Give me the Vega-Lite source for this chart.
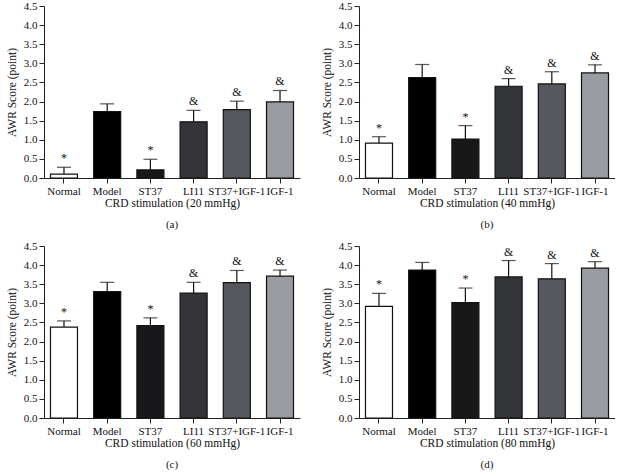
{
  "$schema": "https://vega.github.io/schema/vega-lite/v6.json",
  "padding": {"top": 0, "left": 6, "right": 0, "bottom": 0},
  "background": "white",
  "config": {
    "font": "Liberation Serif",
    "view": {"stroke": null},
    "axis": {
      "domainColor": "#222",
      "tickColor": "#222",
      "labelColor": "#111",
      "titleColor": "#111",
      "labelFont": "Liberation Serif",
      "titleFont": "Liberation Serif",
      "titleFontWeight": "normal",
      "labelFontSize": 11,
      "titleFontSize": 11.5,
      "grid": false,
      "tickSize": 5
    },
    "title": {"font": "Liberation Serif", "fontSize": 11, "fontWeight": "normal", "color": "#111"}
  },
  "datasets": {
    "awr": [
      {"panel": "a", "group": "Normal", "mean": 0.10, "upper": 0.28, "sig": "*"},
      {"panel": "a", "group": "Model", "mean": 1.74, "upper": 1.94, "sig": ""},
      {"panel": "a", "group": "ST37", "mean": 0.21, "upper": 0.49, "sig": "*"},
      {"panel": "a", "group": "LI11", "mean": 1.47, "upper": 1.77, "sig": "&"},
      {"panel": "a", "group": "ST37+IGF-1", "mean": 1.79, "upper": 2.01, "sig": "&"},
      {"panel": "a", "group": "IGF-1", "mean": 1.99, "upper": 2.29, "sig": "&"},
      {"panel": "b", "group": "Normal", "mean": 0.91, "upper": 1.08, "sig": "*"},
      {"panel": "b", "group": "Model", "mean": 2.63, "upper": 2.97, "sig": ""},
      {"panel": "b", "group": "ST37", "mean": 1.02, "upper": 1.37, "sig": "*"},
      {"panel": "b", "group": "LI11", "mean": 2.40, "upper": 2.60, "sig": "&"},
      {"panel": "b", "group": "ST37+IGF-1", "mean": 2.46, "upper": 2.78, "sig": "&"},
      {"panel": "b", "group": "IGF-1", "mean": 2.75, "upper": 2.96, "sig": "&"},
      {"panel": "c", "group": "Normal", "mean": 2.38, "upper": 2.54, "sig": "*"},
      {"panel": "c", "group": "Model", "mean": 3.31, "upper": 3.55, "sig": ""},
      {"panel": "c", "group": "ST37", "mean": 2.42, "upper": 2.62, "sig": "*"},
      {"panel": "c", "group": "LI11", "mean": 3.27, "upper": 3.55, "sig": "&"},
      {"panel": "c", "group": "ST37+IGF-1", "mean": 3.54, "upper": 3.86, "sig": "&"},
      {"panel": "c", "group": "IGF-1", "mean": 3.71, "upper": 3.87, "sig": "&"},
      {"panel": "d", "group": "Normal", "mean": 2.92, "upper": 3.26, "sig": "*"},
      {"panel": "d", "group": "Model", "mean": 3.87, "upper": 4.07, "sig": ""},
      {"panel": "d", "group": "ST37", "mean": 3.02, "upper": 3.40, "sig": "*"},
      {"panel": "d", "group": "LI11", "mean": 3.69, "upper": 4.12, "sig": "&"},
      {"panel": "d", "group": "ST37+IGF-1", "mean": 3.64, "upper": 4.04, "sig": "&"},
      {"panel": "d", "group": "IGF-1", "mean": 3.92, "upper": 4.09, "sig": "&"}
    ]
  },
  "data": {"name": "awr"},
  "columns": 2,
  "bounds": "flush",
  "spacing": {"row": 68, "column": 59},
  "concat": [
    {
      "width": 256, "height": 172,
      "title": {"text": "(a)", "orient": "bottom", "offset": 10},
      "transform": [{"filter": "datum.panel === 'a'"}],
      "encoding": {
        "x": {"field": "group", "type": "nominal", "sort": null,
              "scale": {"paddingInner": 0.375, "paddingOuter": 0.15},
              "axis": {"title": "CRD stimulation (20 mmHg)", "labelAngle": 0, "labelPadding": 2, "titlePadding": 1}},
        "y": {"field": "mean", "type": "quantitative",
              "scale": {"domain": [0, 4.5], "nice": false},
              "axis": {"title": "AWR Score (point)", "values": [0, 0.5, 1, 1.5, 2, 2.5, 3, 3.5, 4, 4.5], "format": ".1f", "labelPadding": 2, "titlePadding": 6}}
      },
      "layer": [
        {"mark": {"type": "rule", "color": "#111", "strokeWidth": 1.2}, "encoding": {"y2": {"field": "upper"}}},
        {"mark": {"type": "tick", "color": "#111", "size": 14, "thickness": 1.2}, "encoding": {"y": {"field": "upper", "type": "quantitative"}}},
        {"mark": {"type": "bar", "stroke": "#111", "strokeWidth": 1.2},
         "encoding": {"color": {"field": "group", "type": "nominal", "legend": null,
           "scale": {"domain": ["Normal", "Model", "ST37", "LI11", "ST37+IGF-1", "IGF-1"], "range": ["#ffffff", "#000000", "#18181a", "#333438", "#55585d", "#999ca0"]}}}},
        {"mark": {"type": "text", "baseline": "bottom", "dy": -2, "fontSize": 12, "font": "Liberation Serif", "fill": "#111"},
         "encoding": {"y": {"field": "upper", "type": "quantitative"}, "text": {"field": "sig"}}}
      ]
    },
    {
      "width": 256, "height": 172,
      "title": {"text": "(b)", "orient": "bottom", "offset": 10},
      "transform": [{"filter": "datum.panel === 'b'"}],
      "encoding": {
        "x": {"field": "group", "type": "nominal", "sort": null,
              "scale": {"paddingInner": 0.375, "paddingOuter": 0.15},
              "axis": {"title": "CRD stimulation (40 mmHg)", "labelAngle": 0, "labelPadding": 2, "titlePadding": 1}},
        "y": {"field": "mean", "type": "quantitative",
              "scale": {"domain": [0, 4.5], "nice": false},
              "axis": {"title": "AWR Score (point)", "values": [0, 0.5, 1, 1.5, 2, 2.5, 3, 3.5, 4, 4.5], "format": ".1f", "labelPadding": 2, "titlePadding": 6}}
      },
      "layer": [
        {"mark": {"type": "rule", "color": "#111", "strokeWidth": 1.2}, "encoding": {"y2": {"field": "upper"}}},
        {"mark": {"type": "tick", "color": "#111", "size": 14, "thickness": 1.2}, "encoding": {"y": {"field": "upper", "type": "quantitative"}}},
        {"mark": {"type": "bar", "stroke": "#111", "strokeWidth": 1.2},
         "encoding": {"color": {"field": "group", "type": "nominal", "legend": null,
           "scale": {"domain": ["Normal", "Model", "ST37", "LI11", "ST37+IGF-1", "IGF-1"], "range": ["#ffffff", "#000000", "#18181a", "#333438", "#55585d", "#999ca0"]}}}},
        {"mark": {"type": "text", "baseline": "bottom", "dy": -2, "fontSize": 12, "font": "Liberation Serif", "fill": "#111"},
         "encoding": {"y": {"field": "upper", "type": "quantitative"}, "text": {"field": "sig"}}}
      ]
    },
    {
      "width": 256, "height": 172,
      "title": {"text": "(c)", "orient": "bottom", "offset": 10},
      "transform": [{"filter": "datum.panel === 'c'"}],
      "encoding": {
        "x": {"field": "group", "type": "nominal", "sort": null,
              "scale": {"paddingInner": 0.375, "paddingOuter": 0.15},
              "axis": {"title": "CRD stimulation (60 mmHg)", "labelAngle": 0, "labelPadding": 2, "titlePadding": 1}},
        "y": {"field": "mean", "type": "quantitative",
              "scale": {"domain": [0, 4.5], "nice": false},
              "axis": {"title": "AWR Score (point)", "values": [0, 0.5, 1, 1.5, 2, 2.5, 3, 3.5, 4, 4.5], "format": ".1f", "labelPadding": 2, "titlePadding": 6}}
      },
      "layer": [
        {"mark": {"type": "rule", "color": "#111", "strokeWidth": 1.2}, "encoding": {"y2": {"field": "upper"}}},
        {"mark": {"type": "tick", "color": "#111", "size": 14, "thickness": 1.2}, "encoding": {"y": {"field": "upper", "type": "quantitative"}}},
        {"mark": {"type": "bar", "stroke": "#111", "strokeWidth": 1.2},
         "encoding": {"color": {"field": "group", "type": "nominal", "legend": null,
           "scale": {"domain": ["Normal", "Model", "ST37", "LI11", "ST37+IGF-1", "IGF-1"], "range": ["#ffffff", "#000000", "#18181a", "#333438", "#55585d", "#999ca0"]}}}},
        {"mark": {"type": "text", "baseline": "bottom", "dy": -2, "fontSize": 12, "font": "Liberation Serif", "fill": "#111"},
         "encoding": {"y": {"field": "upper", "type": "quantitative"}, "text": {"field": "sig"}}}
      ]
    },
    {
      "width": 256, "height": 172,
      "title": {"text": "(d)", "orient": "bottom", "offset": 10},
      "transform": [{"filter": "datum.panel === 'd'"}],
      "encoding": {
        "x": {"field": "group", "type": "nominal", "sort": null,
              "scale": {"paddingInner": 0.375, "paddingOuter": 0.15},
              "axis": {"title": "CRD stimulation (80 mmHg)", "labelAngle": 0, "labelPadding": 2, "titlePadding": 1}},
        "y": {"field": "mean", "type": "quantitative",
              "scale": {"domain": [0, 4.5], "nice": false},
              "axis": {"title": "AWR Score (point)", "values": [0, 0.5, 1, 1.5, 2, 2.5, 3, 3.5, 4, 4.5], "format": ".1f", "labelPadding": 2, "titlePadding": 6}}
      },
      "layer": [
        {"mark": {"type": "rule", "color": "#111", "strokeWidth": 1.2}, "encoding": {"y2": {"field": "upper"}}},
        {"mark": {"type": "tick", "color": "#111", "size": 14, "thickness": 1.2}, "encoding": {"y": {"field": "upper", "type": "quantitative"}}},
        {"mark": {"type": "bar", "stroke": "#111", "strokeWidth": 1.2},
         "encoding": {"color": {"field": "group", "type": "nominal", "legend": null,
           "scale": {"domain": ["Normal", "Model", "ST37", "LI11", "ST37+IGF-1", "IGF-1"], "range": ["#ffffff", "#000000", "#18181a", "#333438", "#55585d", "#999ca0"]}}}},
        {"mark": {"type": "text", "baseline": "bottom", "dy": -2, "fontSize": 12, "font": "Liberation Serif", "fill": "#111"},
         "encoding": {"y": {"field": "upper", "type": "quantitative"}, "text": {"field": "sig"}}}
      ]
    }
  ]
}
